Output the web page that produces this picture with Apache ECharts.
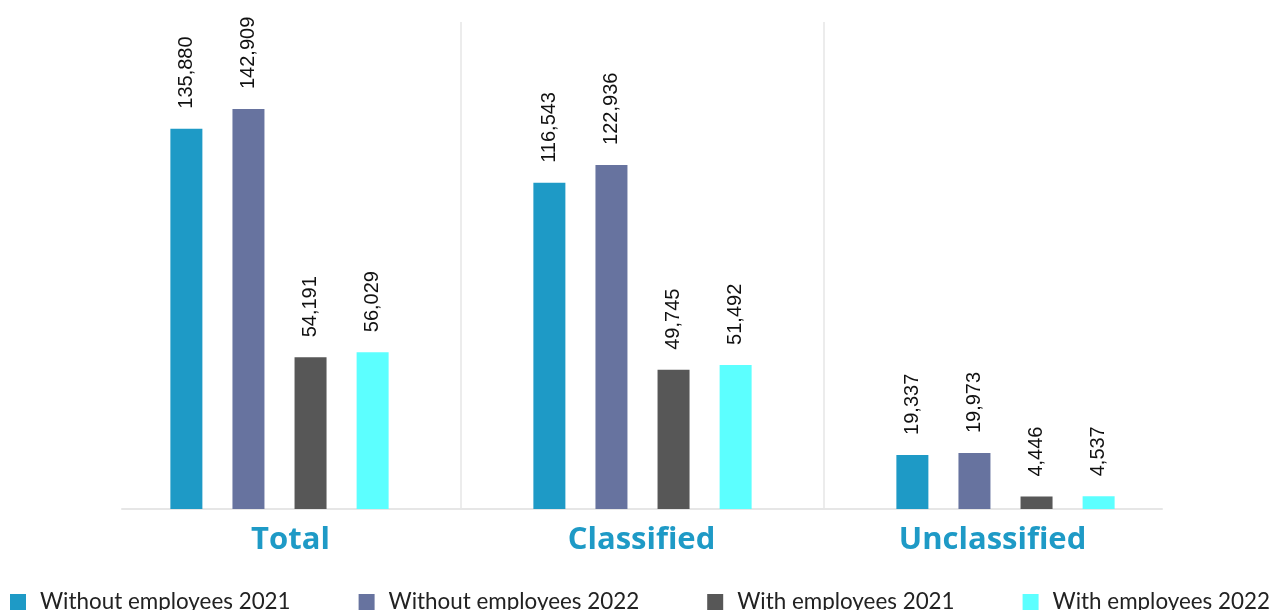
<!DOCTYPE html>
<html>
<head>
<meta charset="utf-8">
<script src="https://cdn.jsdelivr.net/npm/echarts@6/dist/echarts.min.js"></script>
<style>html,body{margin:0;padding:0;background:#fff;}#c{width:1274px;height:610px;}</style>
</head>
<body>
<div id="c"></div>
<script>
var categories = ['Total', 'Classified', 'Unclassified'];
var seriesNames = ['Without employees 2021', 'Without employees 2022', 'With employees 2021', 'With employees 2022'];
var withoutEmp2021 = [135880, 116543, 19337];
var withoutEmp2022 = [142909, 122936, 19973];
var withEmp2021 = [54191, 49745, 4446];
var withEmp2022 = [56029, 51492, 4537];
var colors = ['#1e9ac6', '#67739f', '#575757', '#5cffff'];

var allData = [withoutEmp2021, withoutEmp2022, withEmp2021, withEmp2022];

var chart = echarts.init(document.getElementById('c'));
chart.setOption({
  animation: false,
  color: colors,
  grid: [
    {left: 98, right: 87, top: 22, bottom: 101},
    {left: 122, right: 112, top: 22, bottom: 101},
    {left: 115, right: 106, top: 22, bottom: 101}
  ],
  legend: {
    left: 5,
    top: 586,
    width: 1400,
    itemWidth: 16,
    itemHeight: 16,
    itemGap: 68,
    icon: 'rect',
    textStyle: {fontFamily: 'Lato', fontSize: 22.4, color: '#222', padding: [0, 0, 0, 9]},
    data: seriesNames
  },
  xAxis: [
    {
      type: 'category',
      gridIndex: 0,
      data: categories,
      axisLine: {show: false},
      axisTick: {show: false},
      axisLabel: {show: false},
      splitLine: {show: true, showMinLine: false, showMaxLine: false, lineStyle: {color: '#ececec', width: 2}}
    },
    {
      type: 'category',
      gridIndex: 1,
      data: categories,
      axisLine: {show: true, lineStyle: {color: '#e6e6e6', width: 2}},
      axisTick: {show: false},
      axisLabel: {show: false},
      splitLine: {show: false}
    },
    {
      type: 'category',
      gridIndex: 2,
      data: categories,
      axisLine: {show: false},
      axisTick: {show: false},
      splitLine: {show: false},
      axisLabel: {fontFamily: 'Open Sans', fontWeight: 'bold', fontSize: 31, color: '#1e9ac6', margin: 16}
    }
  ],
  yAxis: [
    {type: 'value', gridIndex: 0, min: 0, max: 174000, show: false, splitLine: {show: false}},
    {type: 'value', gridIndex: 1, min: 0, max: 174000, show: false, splitLine: {show: false}},
    {type: 'value', gridIndex: 2, min: 0, max: 174000, show: false, splitLine: {show: false}}
  ],
  series: allData.map(function (d, i) {
    return {
      name: seriesNames[i],
      type: 'bar',
      data: d,
      barWidth: 32,
      barGap: '94%',
      itemStyle: {color: colors[i]},
      label: {
        show: true,
        position: 'top',
        rotate: 90,
        align: 'left',
        verticalAlign: 'middle',
        distance: 20,
        fontFamily: 'Liberation Sans',
        fontSize: 20,
        color: '#111',
        formatter: function (p) { return p.value.toLocaleString('en-US'); }
      }
    };
  })
});
</script>
</body>
</html>
